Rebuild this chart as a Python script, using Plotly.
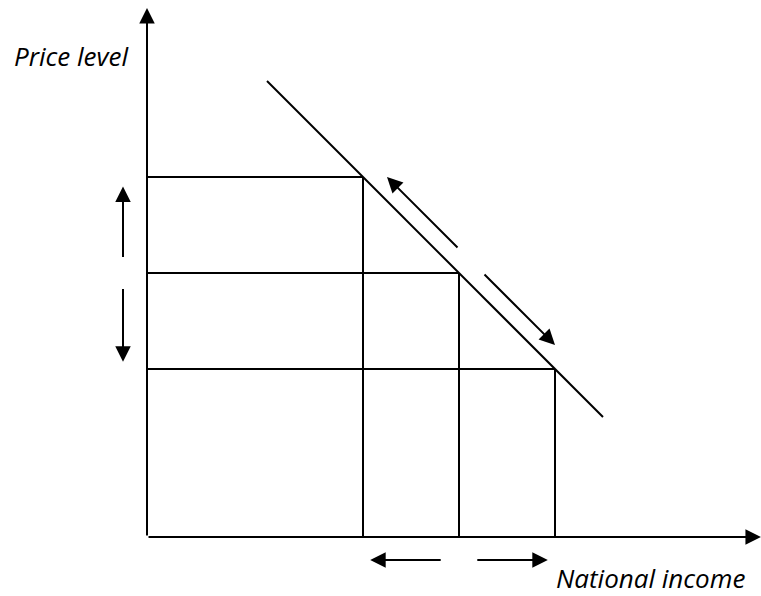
import plotly.graph_objects as go

# ---- data (arbitrary economic units) ----
income_levels = [45, 65, 85]          # Y1, Y2, Y3
price_levels = [75, 55, 35]           # P1, P2, P3
ad_x = [25, 95]                       # aggregate demand line ends
ad_y = [95, 25]
axis_max_x = 127.9
axis_max_y = 110.2

# direction arrows: (tail_x, tail_y, head_x, head_y)
ad_arrows = [(65, 60, 50, 75), (70, 55, 85, 40)]
price_arrows = [(-5, 58, -5, 73), (-5, 52, -5, 36.5)]
income_arrows = [(61.5, -4.8, 46.5, -4.8), (68.5, -4.8, 83.5, -4.8)]

x_label = "National income"
y_label = "Price level"

fig = go.Figure()
line = dict(color="black", width=2)

# horizontal price lines and vertical income lines
for q, p in zip(income_levels, price_levels):
    fig.add_trace(go.Scatter(x=[0, q], y=[p, p], mode="lines", line=line,
                             hoverinfo="skip", showlegend=False))
    fig.add_trace(go.Scatter(x=[q, q], y=[0, p], mode="lines", line=line,
                             hoverinfo="skip", showlegend=False))

# AD line
fig.add_trace(go.Scatter(x=ad_x, y=ad_y, mode="lines", line=line,
                         hoverinfo="skip", showlegend=False))

def arrow(tx, ty, hx, hy):
    fig.add_annotation(x=hx, y=hy, ax=tx, ay=ty, xref="x", yref="y",
                       axref="x", ayref="y", text="", showarrow=True,
                       arrowhead=2, arrowsize=1.55, arrowwidth=2,
                       arrowcolor="black", standoff=0, startstandoff=0)

# axes
arrow(0, 0, 0, axis_max_y)
arrow(0, 0, axis_max_x, 0)

for a in ad_arrows + price_arrows + income_arrows:
    arrow(*a)

lab_font = dict(family="Open Sans", size=26, color="black")
fig.add_annotation(x=-28.0, y=100.3, xref="x", yref="y", text="<i>" + y_label + "</i>",
                   showarrow=False, xanchor="left", yanchor="middle", font=lab_font,
                   borderpad=0)
fig.add_annotation(x=85.0, y=-8.6, xref="x", yref="y", text="<i>" + x_label + "</i>",
                   showarrow=False, xanchor="left", yanchor="middle", font=lab_font,
                   borderpad=0)

fig.update_layout(
    width=761, height=596,
    margin=dict(l=0, r=0, t=0, b=0),
    paper_bgcolor="white", plot_bgcolor="white",
    xaxis=dict(range=[-30.625, 127.917], visible=False, fixedrange=True),
    yaxis=dict(range=[-12.29, 111.875], visible=False, fixedrange=True),
    showlegend=False,
)

fig.write_html("out.html", config={"displayModeBar": False},
               post_script="document.body.style.margin='0';document.body.style.overflow='hidden';")
